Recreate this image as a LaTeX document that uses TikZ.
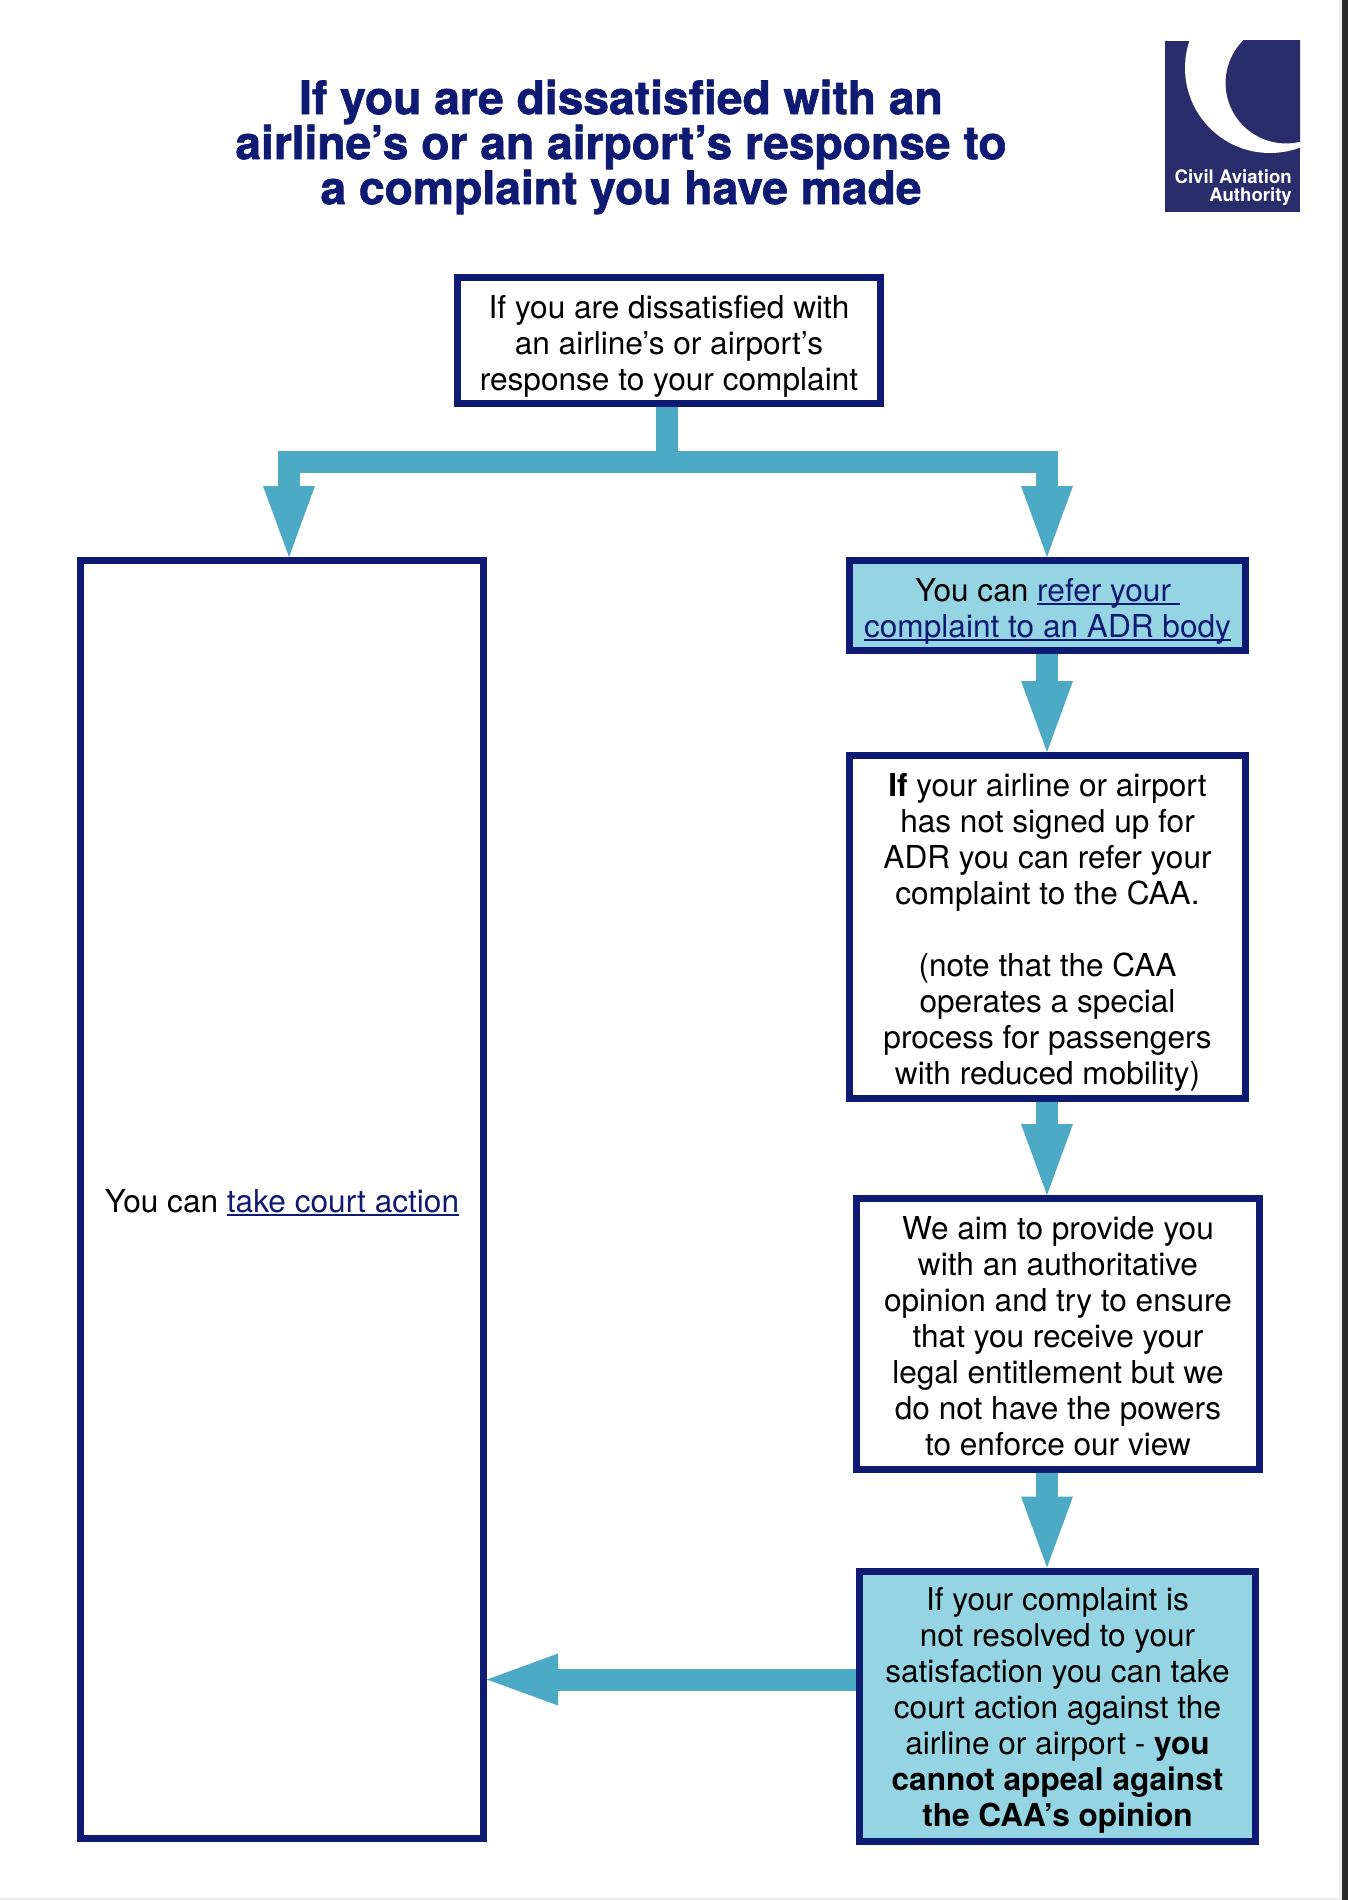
\documentclass[tikz,border=0pt]{standalone}
\usepackage{fontspec}
\usetikzlibrary{arrows.meta}
\setmainfont{TeX Gyre Heros}
\newfontfamily\titlefont[BoldFeatures={FakeBold=1.4}]{TeX Gyre Heros}
\definecolor{navy}{HTML}{0F1B72}
\definecolor{flowblue}{HTML}{4DAAC4}
\definecolor{paleblue}{HTML}{95D4E2}
\definecolor{logoblue}{HTML}{2A2D6B}
\newsavebox{\lnkbox}
\newcommand{\lnk}[1]{\sbox{\lnkbox}{\textcolor{navy}{#1}}\usebox{\lnkbox}\llap{\textcolor{navy}{\rule[-4pt]{\wd\lnkbox}{1.7pt}}}}
\tikzset{
    box/.style={draw=navy,line width=7pt,fill=white,align=center,inner sep=0pt,text depth=0pt,font=\fontsize{31.6}{36}\selectfont},
    flow/.style={draw=flowblue,line width=22pt},
    flowhead/.style={flow,-{Triangle[length=71pt,width=52pt,line width=0pt]}},
}
\begin{document}
\begin{tikzpicture}[x=1pt,y=-1pt]
    \useasboundingbox (0,0) rectangle (1348,1900);
    \fill[white] (0,0) rectangle (1348,1900);
    % page edge
    \fill[black!7] (1339,0) rectangle (1348,1900);
    \fill[black!7] (0,1898) rectangle (1348,1900);
    \fill[black!84] (1342,0) rectangle (1348,1900);
    % logo
    \fill[logoblue] (1165,41) rectangle (1300,212);
    \begin{scope}
        \clip (1165,41) rectangle (1300,212);
        \fill[white] (1270,68) circle (85);
        \fill[logoblue] (1286,83) circle (60.4);
    \end{scope}
    \node[anchor=base east,text=white,align=right,inner sep=0pt,font=\fontsize{18.6}{18}\selectfont\bfseries] (logotext) at (1292,201) {Civil Aviation\\Authority};
    % title
    \node[text=navy,align=center,inner sep=0pt,font=\fontsize{46.2}{45}\selectfont\titlefont\bfseries] (title) at (621,147) {If you are dissatisfied with an\\airline’s or an airport’s response to\\a complaint you have made};
    % boxes
    \node[box,text height=99pt,minimum width=423pt,minimum height=126pt] (start) at (669,340.5) {If you are dissatisfied with\\an airline’s or airport’s\\response to your complaint};
    \node[box,text height=25pt,minimum width=403pt,minimum height=1278pt] (court) at (282,1199.5) {You can \lnk{take court action}};
    \node[box,text height=63pt,fill=paleblue,minimum width=396pt,minimum height=90pt] (adr) at (1047.5,605.5) {You can \lnk{refer your\ }\\\lnk{complaint to an ADR body}};
    \node[box,text height=315pt,minimum width=396pt,minimum height=343pt] (caa) at (1047.5,927) {\textbf{If} your airline or airport\\has not signed up for\\ADR you can refer your\\complaint to the CAA.\\[36pt](note that the CAA\\operates a special\\process for passengers\\with reduced mobility)};
    \node[box,text height=243pt,minimum width=403pt,minimum height=271pt] (opinion) at (1058,1334) {We aim to provide you\\with an authoritative\\opinion and try to ensure\\that you receive your\\legal entitlement but we\\do not have the powers\\to enforce our view};
    \node[box,text height=241pt,fill=paleblue,minimum width=396pt,minimum height=270pt] (final) at (1057.5,1706) {If your complaint is\\not resolved to your\\satisfaction you can take\\court action against the\\airline or airport - \textbf{you}\\\textbf{cannot appeal against}\\\textbf{the CAA’s opinion}};
    % connectors
    \coordinate (forkmid) at (667,461.5);
    \coordinate (forkleft) at (289,461.5);
    \coordinate (forkright) at (1047,461.5);
    \draw[flow] (forkmid |- start.south) -- (forkmid);
    \draw[flow] ([xshift=-11pt]forkleft) -- ([xshift=11pt]forkright);
    \draw[flowhead] (forkleft) -- (forkleft |- court.north);
    \draw[flowhead] (forkright) -- (forkright |- adr.north);
    \draw[flowhead] (forkright |- adr.south) -- (forkright |- caa.north);
    \draw[flowhead] (forkright |- caa.south) -- (forkright |- opinion.north);
    \draw[flowhead] (forkright |- opinion.south) -- (forkright |- final.north);
    \coordinate (backarrow) at (final.west |- 0,1679.5);
    \draw[flowhead] (backarrow) -- (court.east |- backarrow);
\end{tikzpicture}
\end{document}
